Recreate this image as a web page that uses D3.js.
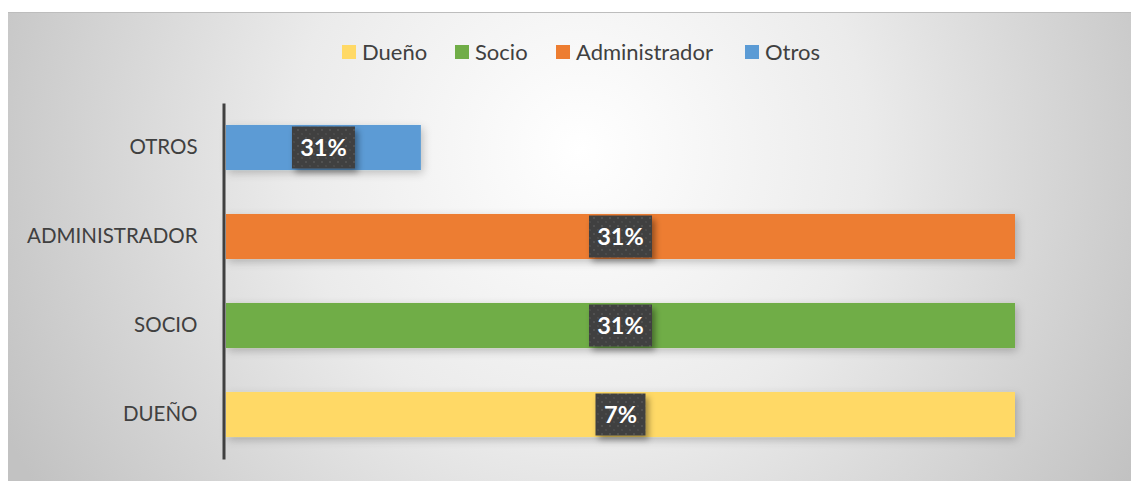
<!DOCTYPE html>
<html>
<head>
<meta charset="utf-8">
<script src="https://cdn.jsdelivr.net/npm/d3@7"></script>
<style>
  body { margin: 0; background: #fff; }
  svg { display: block; font-family: Lato, "Open Sans", sans-serif; }
</style>
</head>
<body>
<svg id="chart" width="1131" height="481"></svg>
<script>
// data (top to bottom)
const categories = ["OTROS", "ADMINISTRADOR", "SOCIO", "DUEÑO"]
const barShares = [0.247, 1, 1, 1]          // bar length as share of plot width
const barLabels = ["31%", "31%", "31%", "7%"]
const barColors = ["#5b9bd5", "#ed7d31", "#70ad47", "#ffd966"]

const legendNames = ["Dueño", "Socio", "Administrador", "Otros"]
const legendColors = ["#ffd966", "#70ad47", "#ed7d31", "#5b9bd5"]

const svg = d3.select("#chart")
const defs = svg.append("defs")

// background gradient
const bg = defs.append("radialGradient")
  .attr("id", "bg")
  .attr("gradientUnits", "userSpaceOnUse")
  .attr("cx", 580).attr("cy", 150).attr("r", 640)
bg.append("stop").attr("offset", "0%").attr("stop-color", "#ffffff")
bg.append("stop").attr("offset", "45%").attr("stop-color", "#ebebeb")
bg.append("stop").attr("offset", "100%").attr("stop-color", "#c2c2c2")

// shadows
const sh = defs.append("filter").attr("id", "barShadow")
  .attr("x", "-5%").attr("y", "-40%").attr("width", "115%").attr("height", "190%")
sh.append("feDropShadow").attr("dx", 2).attr("dy", 3).attr("stdDeviation", 4)
  .attr("flood-color", "#000").attr("flood-opacity", 0.22)

const lsh = defs.append("filter").attr("id", "lblShadow")
  .attr("x", "-30%").attr("y", "-30%").attr("width", "170%").attr("height", "180%")
lsh.append("feDropShadow").attr("dx", 3).attr("dy", 4).attr("stdDeviation", 3)
  .attr("flood-color", "#000").attr("flood-opacity", 0.4)

// dotted pattern of the label boxes
const pat = defs.append("pattern").attr("id", "dots")
  .attr("patternUnits", "userSpaceOnUse").attr("width", 8).attr("height", 8)
pat.append("rect").attr("width", 8).attr("height", 8).attr("fill", "#3f3f3f")
pat.append("circle").attr("cx", 2).attr("cy", 2).attr("r", 1.1).attr("fill", "#555")
pat.append("circle").attr("cx", 6).attr("cy", 6).attr("r", 1.1).attr("fill", "#4d4d4d")

// chart area
svg.append("rect")
  .attr("x", 8).attr("y", 12).attr("width", 1123).attr("height", 469)
  .attr("fill", "url(#bg)")
svg.append("line")
  .attr("x1", 8).attr("x2", 1131).attr("y1", 12.5).attr("y2", 12.5)
  .attr("stroke", "#bdbdbd").attr("stroke-width", 1)

// legend
const legendX = [342, 455, 556, 745]
const legend = svg.append("g")
legendNames.forEach((name, i) => {
  legend.append("rect")
    .attr("x", legendX[i]).attr("y", 45).attr("width", 14).attr("height", 14)
    .attr("fill", legendColors[i])
  legend.append("text")
    .attr("x", legendX[i] + 20).attr("y", 59.5)
    .attr("font-size", 22).attr("fill", "#404040")
    .text(name)
})

// scales
const x = d3.scaleLinear().domain([0, 1]).range([226, 1015])
const y = d3.scaleBand()
  .domain(categories)
  .range([103, 459])
  .paddingInner(0.494)
  .paddingOuter(0.247)

// bars
svg.append("g")
  .selectAll("rect")
  .data(categories)
  .join("rect")
    .attr("x", x(0))
    .attr("y", d => y(d))
    .attr("width", (d, i) => x(barShares[i]) - x(0))
    .attr("height", y.bandwidth())
    .attr("fill", (d, i) => barColors[i])
    .attr("filter", "url(#barShadow)")

// axis
const axis = svg.append("g")
  .attr("transform", "translate(223.5,0)")
  .call(d3.axisLeft(y).tickSize(0).tickPadding(26))
axis.select(".domain").attr("stroke", "#404040").attr("stroke-width", 3)
axis.selectAll("text")
  .attr("font-family", "Lato, 'Open Sans', sans-serif")
  .attr("font-size", 20.5)
  .attr("fill", "#404040")

// data labels
const labels = svg.append("g")
categories.forEach((c, i) => {
  const cx = (x(0) + x(barShares[i])) / 2
  const cy = y(c) + y.bandwidth() / 2
  const w = barLabels[i].length > 2 ? 63 : 50
  labels.append("rect")
    .attr("x", cx - w / 2).attr("y", cy - 21)
    .attr("width", w).attr("height", 42)
    .attr("fill", "url(#dots)")
    .attr("filter", "url(#lblShadow)")
  labels.append("text")
    .attr("x", cx).attr("y", cy + 8.5)
    .attr("text-anchor", "middle")
    .attr("font-size", 23.5).attr("font-weight", "bold")
    .attr("fill", "#fff")
    .text(barLabels[i])
})
</script>
</body>
</html>
